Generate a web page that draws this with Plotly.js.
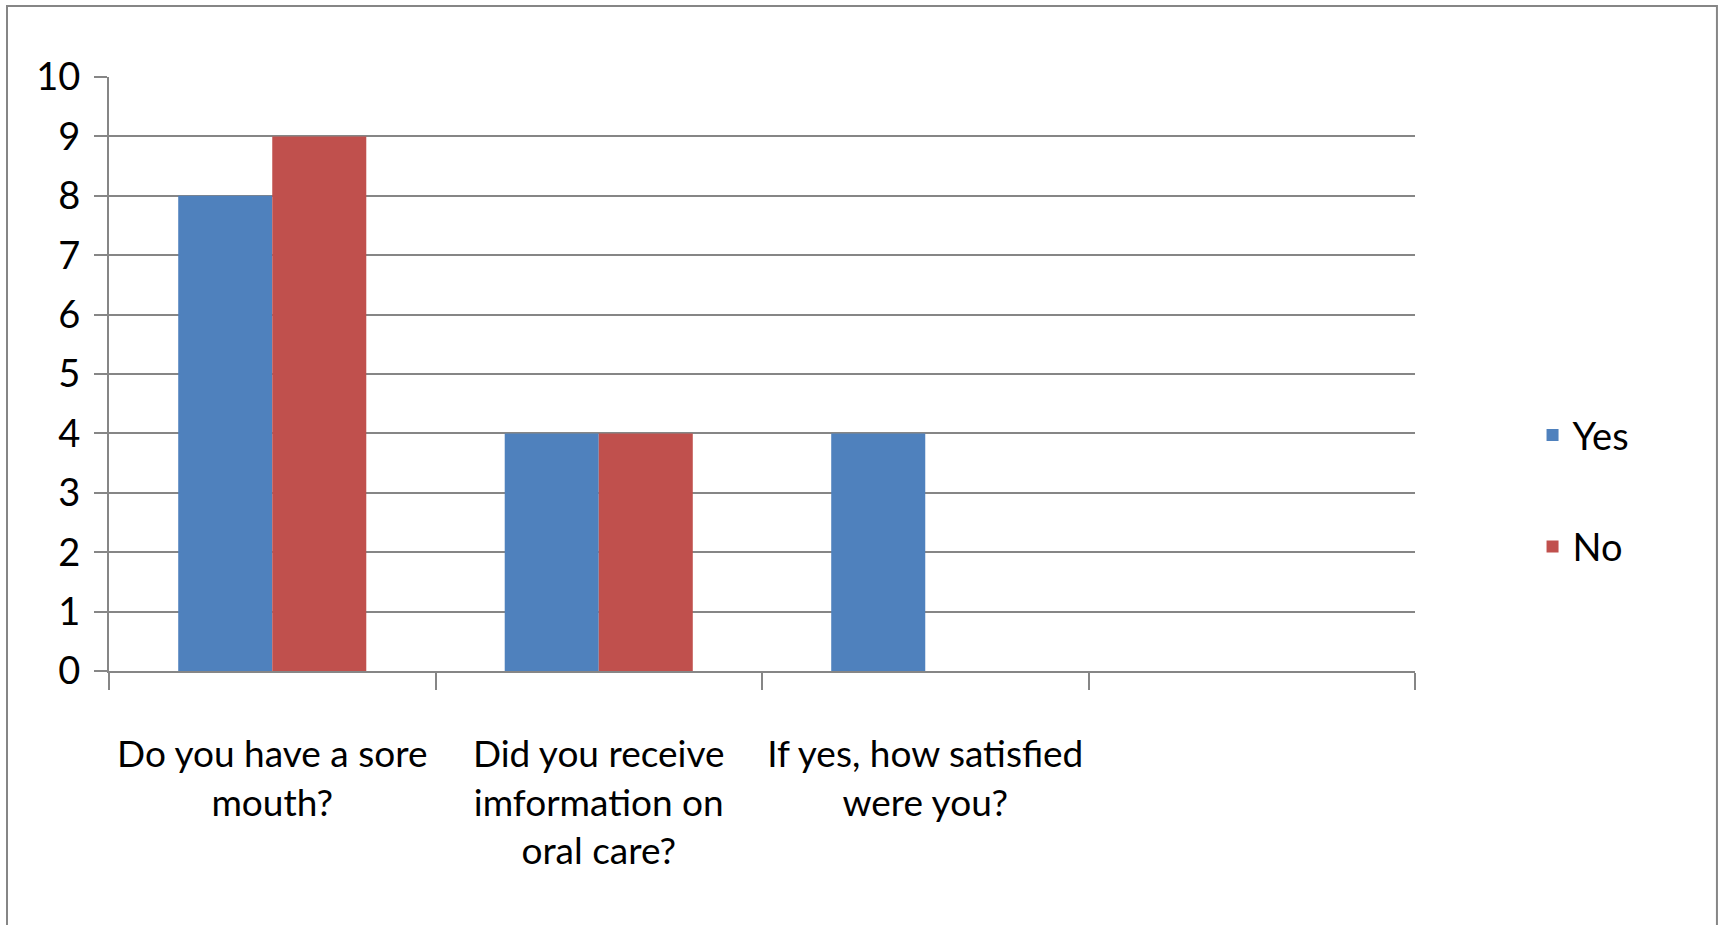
<!DOCTYPE html>
<html>
<head>
<meta charset="utf-8">
<script src="https://cdn.plot.ly/plotly-3.0.1.min.js"></script>
<style>
html,body{margin:0;padding:0;background:#fff;}
#chart{width:1719px;height:925px;}
</style>
</head>
<body>
<div id="chart"></div>
<script>
const categories = [
  "Do you have a sore<br>mouth?",
  "Did you receive<br>imformation on<br>oral care?",
  "If yes, how satisfied<br>were you?",
  " "
];
const yesValues = [8, 4, 4, null];
const noValues = [9, 4, 0, null];
const seriesNames = ["Yes", "No"];
const yTicks = [0, 1, 2, 3, 4, 5, 6, 7, 8, 9, 10];

const FONT = 'Lato, "Liberation Sans", sans-serif';
const FS = 38;
const GRAY = '#868686';

const traces = [
  {type: 'bar', name: seriesNames[0], x: categories, y: yesValues,
   marker: {color: '#4F81BD'}, legend: 'legend'},
  {type: 'bar', name: seriesNames[1], x: categories, y: noValues,
   marker: {color: '#C0504D'}, legend: 'legend2'}
];

const layout = {
  width: 1719, height: 925,
  margin: {l: 109, r: 304, t: 77, b: 254, pad: 0},
  paper_bgcolor: '#fff', plot_bgcolor: '#fff',
  font: {family: FONT, size: FS, color: '#000'},
  barmode: 'group', bargap: 0.424, bargroupgap: 0,
  xaxis: {
    type: 'category', tickson: 'boundaries', ticks: 'outside', ticklen: 17,
    tickwidth: 2, tickcolor: GRAY, showline: true, linecolor: GRAY, linewidth: 2,
    showgrid: false, tickangle: 0, tickfont: {family: FONT, size: 37, color: '#000'},
    ticklabelstandoff: 50, fixedrange: true
  },
  yaxis: {
    range: [0, 10], tickvals: yTicks, ticks: 'outside', ticklen: 13, tickwidth: 2,
    tickcolor: GRAY, showline: true, linecolor: GRAY, linewidth: 2,
    showgrid: true, gridcolor: GRAY, gridwidth: 2, zeroline: false,
    tickfont: {family: FONT, size: FS, color: '#000'}, ticklabelstandoff: 6, fixedrange: true
  },
  legend: {x: 1.09, xanchor: 'left', y: 0.397, yanchor: 'middle',
    font: {family: FONT, size: FS, color: '#000'}, bgcolor: 'rgba(0,0,0,0)'},
  legend2: {x: 1.09, xanchor: 'left', y: 0.209, yanchor: 'middle',
    font: {family: FONT, size: FS, color: '#000'}, bgcolor: 'rgba(0,0,0,0)'},
  showlegend: true,
  shapes: [{type: 'rect', xref: 'paper', yref: 'paper',
    x0: -0.0781, x1: 1.2312, y0: -0.44, y1: 1.1195,
    line: {color: GRAY, width: 2}, fillcolor: 'rgba(0,0,0,0)', layer: 'below'}]
};

Plotly.newPlot('chart', traces, layout, {displayModeBar: false, staticPlot: true});
</script>
</body>
</html>
